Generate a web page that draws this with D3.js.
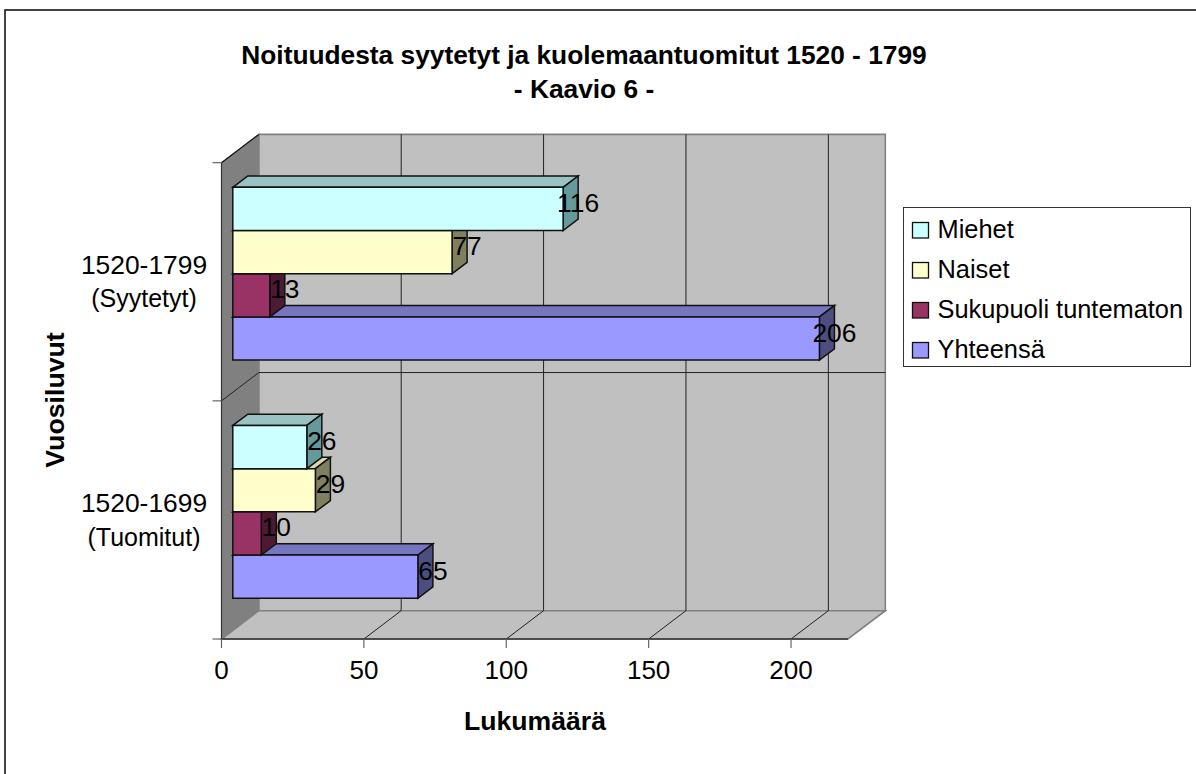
<!DOCTYPE html>
<html><head><meta charset="utf-8">
<script src="https://cdn.jsdelivr.net/npm/d3@7"></script>
<style>html,body{margin:0;padding:0;background:#fff}svg{display:block}text{font-family:"Liberation Sans",Arial,sans-serif;fill:#000}</style>
</head><body><script>
const categories = ["1520-1799 (Syytetyt)", "1520-1699 (Tuomitut)"];
const categoryLines = [["1520-1799","(Syytetyt)"],["1520-1699","(Tuomitut)"]];
const seriesNames = ["Miehet","Naiset","Sukupuoli tuntematon","Yhteensä"];
const miehet = [116, 26];
const naiset = [77, 29];
const tuntematon = [13, 10];
const yhteensa = [206, 65];
const seriesValues = [miehet, naiset, tuntematon, yhteensa];
const frontColors = ["#ccffff","#ffffcc","#993366","#9999ff"];
const topColors = ["#99c2c2","#d9d9ad","#7a2952","#7575c0"];
const sideColors = ["#669999","#808060","#4d1a33","#4d4d80"];
const xTicks = [0,50,100,150,200];
const titleLines = ["Noituudesta syytetyt ja kuolemaantuomitut 1520 - 1799","- Kaavio 6 -"];

const W=1196,H=774;
const svg=d3.select("body").append("svg").attr("width",W).attr("height",H);
svg.append("rect").attr("x",5).attr("y",10).attr("width",1400).attr("height",1000).attr("fill","#fff").attr("stroke","#222").attr("stroke-width",1.7);

const x=d3.scaleLinear().domain([0,220]).range([221.5,848]);
const y=d3.scaleBand().domain(categories).range([162.7,639]);
const yInner=d3.scaleBand().domain(seriesNames).range([24.6,24.6+172.8]);
const dx=37.3,dy=-28.3;      // chart box depth
const bx=15,by=-11.3;        // bar depth
const bx0=11.3;              // bar inset from front plane
const [y0,y1]=[y.range()[0],y.range()[1]];
const xL=x(0),xR=x(220);
const poly=(g,pts,fill,stroke,sw)=>g.append("polygon").attr("points",pts.map(p=>p.join(",")).join(" ")).attr("fill",fill).attr("stroke",stroke).attr("stroke-width",sw).attr("stroke-linejoin","miter");
const line=(g,a,b,c,w)=>g.append("line").attr("x1",a[0]).attr("y1",a[1]).attr("x2",b[0]).attr("y2",b[1]).attr("stroke",c).attr("stroke-width",w);

const box=svg.append("g");
poly(box,[[xL+dx,y0+dy],[xR+dx,y0+dy],[xR+dx,y1+dy],[xL+dx,y1+dy]],"#c0c0c0","#808080",1.6);
poly(box,[[xL,y1],[xL+dx,y1+dy],[xR+dx,y1+dy],[xR,y1]],"#c0c0c0","#808080",1.6);
poly(box,[[xL,y0],[xL+dx,y0+dy],[xL+dx,y1+dy],[xL,y1]],"#808080","#808080",1);
xTicks.slice(1).forEach(t=>{
  line(box,[x(t)+dx,y0+dy],[x(t)+dx,y1+dy],"#222",1);
  line(box,[x(t),y1],[x(t)+dx,y1+dy],"#222",1);
});
const mid=y(categories[1]);
line(box,[xL,mid],[xL+dx,mid+dy],"#222",1);
line(box,[xL+dx,mid+dy],[xR+dx,mid+dy],"#222",1);
line(box,[xL,y0],[xL+dx,y0+dy],"#111",1.3);
line(box,[xL,y0],[xL,y1],"#333",1.2);
line(box,[xL,y1],[xR,y1],"#333",1.4);
xTicks.forEach(t=>line(box,[x(t),y1],[x(t),y1+9],"#666",1.2));
[y0,mid,y1].forEach(v=>line(box,[xL-9,v],[xL,v],"#666",1.2));

const bars=svg.append("g");
const labels=svg.append("g");
for(let s=seriesNames.length-1;s>=0;s--){
  categories.forEach((c,ci)=>{
    const v=seriesValues[s][ci];
    const x0=x(0)+bx0, x1=x0+(x(v)-x(0));
    const t=y(c)+yInner(seriesNames[s]), b=t+yInner.bandwidth();
    poly(bars,[[x0,t],[x0+bx,t+by],[x1+bx,t+by],[x1,t]],topColors[s],"#111",1.5);
    poly(bars,[[x1,t],[x1+bx,t+by],[x1+bx,b+by],[x1,b]],sideColors[s],"#111",1.5);
    poly(bars,[[x0,t],[x1,t],[x1,b],[x0,b]],frontColors[s],"#111",1.5);
  });
}
seriesNames.forEach((n,s)=>categories.forEach((c,ci)=>{
  const v=seriesValues[s][ci];
  const xe=x(0)+bx0+(x(v)-x(0));
  const t=y(c)+yInner(n);
  labels.append("text").attr("x",xe+15).attr("y",t+yInner.bandwidth()/2+3).attr("text-anchor","middle").attr("font-size",26.4).text(v);
}));
xTicks.forEach(t=>svg.append("text").attr("x",x(t)).attr("y",678.5).attr("text-anchor","middle").attr("font-size",26).text(t));
categories.forEach((c,i)=>{
  const cy=y(c)+y.bandwidth()/2;
  categoryLines[i].forEach((l,j)=>svg.append("text").attr("x",144).attr("y",cy+(j?25.6:-7.5)).attr("text-anchor","middle").attr("font-size",j?25:26.4).text(l));
});
titleLines.forEach((l,i)=>svg.append("text").attr("x",584).attr("y",[64,98][i]).attr("text-anchor","middle").attr("font-size",26.3).attr("font-weight","bold").text(l));
svg.append("text").attr("x",535).attr("y",729.5).attr("text-anchor","middle").attr("font-size",26.6).attr("font-weight","bold").text("Lukumäärä");
svg.append("text").attr("transform","translate(64,400) rotate(-90)").attr("text-anchor","middle").attr("font-size",26.7).attr("font-weight","bold").text("Vuosiluvut");

const lg=svg.append("g");
lg.append("rect").attr("x",903.5).attr("y",207.5).attr("width",287).attr("height",159).attr("fill","#fff").attr("stroke","#333").attr("stroke-width",1);
seriesNames.forEach((n,i)=>{
  const ry=222.5+i*40;
  lg.append("rect").attr("x",912.5).attr("y",ry).attr("width",16).attr("height",15.5).attr("fill",frontColors[i]).attr("stroke","#111").attr("stroke-width",1.3);
  lg.append("text").attr("x",937.5).attr("y",ry+15.5).attr("font-size",25.4).text(n);
});
</script></body></html>
